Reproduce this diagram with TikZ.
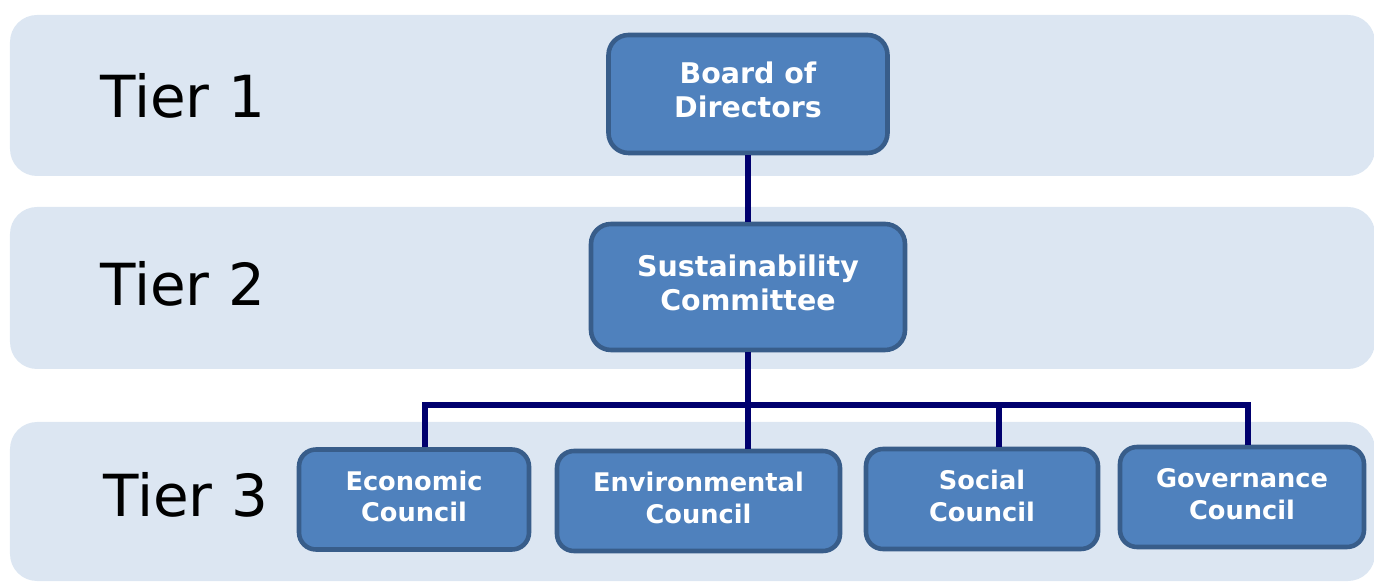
\documentclass[tikz,border=0pt]{standalone}
\usepackage{fontspec}
\setmainfont{DejaVu Sans}
\usetikzlibrary{calc}
\definecolor{bandblue}{RGB}{220,230,242}
\definecolor{boxblue}{RGB}{79,129,189}
\definecolor{boxedge}{RGB}{56,93,138}
\definecolor{linknavy}{RGB}{0,0,110}

\begin{document}
\begin{tikzpicture}

\tikzstyle{band} = [fill=bandblue, rounded corners=0.54cm]
\tikzstyle{tier_label} = [anchor=base west, inner sep=0, font=\fontsize{33}{40}\selectfont]
\tikzstyle{blue_block} = [draw=boxedge, line width=2.6pt, fill=boxblue, rounded corners=0.4cm,
text=white, inner sep=0, font=\bfseries\fontsize{16.2}{19.4}\selectfont]
\tikzstyle{council_block} = [blue_block, rounded corners=0.34cm, minimum height=2.0cm,
font=\bfseries\fontsize{14.6}{18}\selectfont]
\tikzstyle{link} = [draw=linknavy, line width=3.2pt]

\useasboundingbox (0,0) rectangle (27.48,11.66);

% tier bands
\fill[band] (0.2,8.14) rectangle (27.5,11.36);
\fill[band] (0.2,4.28) rectangle (27.5,7.52);
\fill[band] (0.2,0.04) rectangle (27.5,3.22);

\node[tier_label] (tier1) at (2.0,9.3) {Tier 1};
\node[tier_label] (tier2) at (2.0,5.54) {Tier 2};
\node[tier_label] (tier3) at (2.06,1.32) {Tier 3};

% tier 1 and 2
\node [blue_block, minimum width=5.58cm, minimum height=2.36cm] (bod) at (14.96,9.78)
{\begin{tabular}{c} Board of\\ Directors\end{tabular}};
\node [blue_block, minimum width=6.28cm, minimum height=2.52cm] (sc) at (14.96,5.92)
{\begin{tabular}{c} Sustainability\\ Committee\end{tabular}};

% tier 3
\node [council_block, minimum width=4.6cm] (econ) at (8.28,1.67)
{\begin{tabular}{c} Economic\\ Council\end{tabular}};
\node [council_block, minimum width=5.66cm] (env) at (13.97,1.64)
{\begin{tabular}{c} Environmental\\ Council\end{tabular}};
\node [council_block, minimum width=4.64cm] (soc) at (19.64,1.68)
{\begin{tabular}{c} Social\\ Council\end{tabular}};
\node [council_block, minimum width=4.88cm] (gov) at (24.84,1.72)
{\begin{tabular}{c} Governance\\ Council\end{tabular}};

\coordinate (bus) at (14.96,3.56);

\draw[link] (bod.south) -- (bod.south |- sc.north);
\draw[link] (sc.south) -- (sc.south |- env.north);
\draw[link] ([xshift=0.22cm]econ.north) |- (bus) -| ([xshift=0.12cm]gov.north);
\draw[link] ([xshift=0.34cm]soc.north) -- ([xshift=0.34cm]soc.north |- bus);

\end{tikzpicture}
\end{document}
